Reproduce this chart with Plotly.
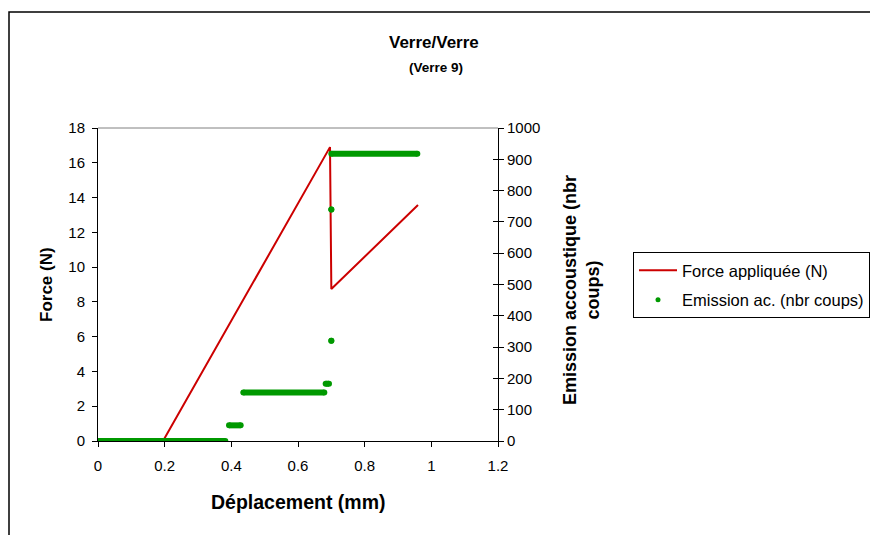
import plotly.graph_objects as go

# ---- data ----
force_x = [0.195, 0.696, 0.70, 0.96]
force_y = [0.0, 16.9, 8.74, 13.57]

# acoustic emission plateaus: (x_start, x_end, counts)
em_start = [0.0, 0.393, 0.436, 0.683, 0.700, 0.700, 0.700]
em_end = [0.382, 0.428, 0.679, 0.693, 0.700, 0.700, 0.958]
em_val = [0, 50, 155, 183, 320, 740, 918]

x_ticks = [0, 0.2, 0.4, 0.6, 0.8, 1, 1.2]
x_ticklabels = ["0", "0.2", "0.4", "0.6", "0.8", "1", "1.2"]

RED = "#CC0000"
GREEN = "#009900"
FONT = "Liberation Sans, Arial, sans-serif"

ex, ey = [], []
for s, e, v in zip(em_start, em_end, em_val):
    ex += [s, e, None]
    ey += [v, v, None]

fig = go.Figure()
fig.add_trace(go.Scatter(x=force_x, y=force_y, mode="lines",
                         line=dict(color=RED, width=2),
                         name="Force appliquée (N)", yaxis="y",
                         legendgroup="a"))
fig.add_trace(go.Scatter(x=ex, y=ey, mode="lines+markers",
                         line=dict(color=GREEN, width=6),
                         marker=dict(color=GREEN, size=6),
                         showlegend=False, yaxis="y2", connectgaps=False))
fig.add_trace(go.Scatter(x=[None], y=[None], mode="markers",
                         marker=dict(color=GREEN, size=5),
                         name="Emission ac. (nbr coups)", yaxis="y2",
                         legendgroup="b"))
fig.add_trace(go.Scatter(x=[None], y=[None], yaxis="y3", showlegend=False))

OFF = 8  # page body margin
FW, FH = 878 - OFF, 535 - OFF
L = 98 - OFF
T = 128 - OFF
XR = 498 - OFF
YB = 441 - OFF
R = FW - XR
B = FH - YB
W, H = XR - L, YB - T


def px(xw):
    return (xw - OFF - L) / W


def py(yw):
    return (YB - (yw - OFF)) / H


def ann(text, xw, yw, size, angle=0):
    return dict(text=text, x=px(xw), y=py(yw), xref="paper", yref="paper",
                xanchor="center", yanchor="middle", showarrow=False,
                textangle=angle, font=dict(size=size))


fig.update_layout(
    width=FW, height=FH,
    margin=dict(l=L, r=R, t=T, b=B, pad=0, autoexpand=False),
    paper_bgcolor="white", plot_bgcolor="white",
    font=dict(family=FONT, size=14, color="black"),
    showlegend=True,
    legend=dict(x=px(633), y=py(252), xanchor="left", yanchor="top",
                bordercolor="black", borderwidth=1, bgcolor="white",
                font=dict(size=16.5), traceorder="grouped", tracegroupgap=5,
                itemwidth=38),
    xaxis=dict(range=[0, 1.2], tickvals=x_ticks, ticktext=x_ticklabels,
               showgrid=False, zeroline=False, showline=True,
               linecolor="black", linewidth=1, ticks="outside", ticklen=5,
               tickcolor="black", tickfont=dict(size=15),
               ticklabelstandoff=6, automargin=False),
    yaxis=dict(range=[0, 18], dtick=2, showgrid=False, zeroline=False,
               showline=True, linecolor="black", linewidth=1,
               ticks="outside", ticklen=5, tickcolor="black",
               tickfont=dict(size=15), ticklabelstandoff=4,
               automargin=False),
    yaxis2=dict(range=[0, 1000], dtick=100, overlaying="y", side="right",
                showgrid=False, zeroline=False, showline=True,
                linecolor="black", linewidth=1, ticks="outside",
                ticklen=5, tickcolor="black", tickfont=dict(size=15),
                automargin=False),
    yaxis3=dict(range=[0, 1000], dtick=100, overlaying="y", side="right",
                showgrid=False, zeroline=False, showline=False,
                ticks="inside", ticklen=5, tickcolor="black",
                showticklabels=False, automargin=False),
    shapes=[
        dict(type="line", xref="paper", yref="paper", x0=0, x1=1, y0=1, y1=1,
             line=dict(color="#808080", width=1)),
        dict(type="rect", xref="paper", yref="paper",
             x0=px(9), x1=px(900), y0=py(600), y1=py(12),
             line=dict(color="black", width=1.5)),
    ],
    annotations=[
        ann("<b>Verre/Verre</b>", 434, 42, 17),
        ann("<b>(Verre 9)</b>", 436, 68, 13.5),
        ann("<b>Force (N)</b>", 46, 285, 17, -90),
        ann("<b>Déplacement (mm)</b>", 298, 502, 19.5),
        ann("<b>Emission accoustique (nbr<br>coups)</b>", 581, 290, 18, -90),
    ],
)

fig.write_html("out.html")
